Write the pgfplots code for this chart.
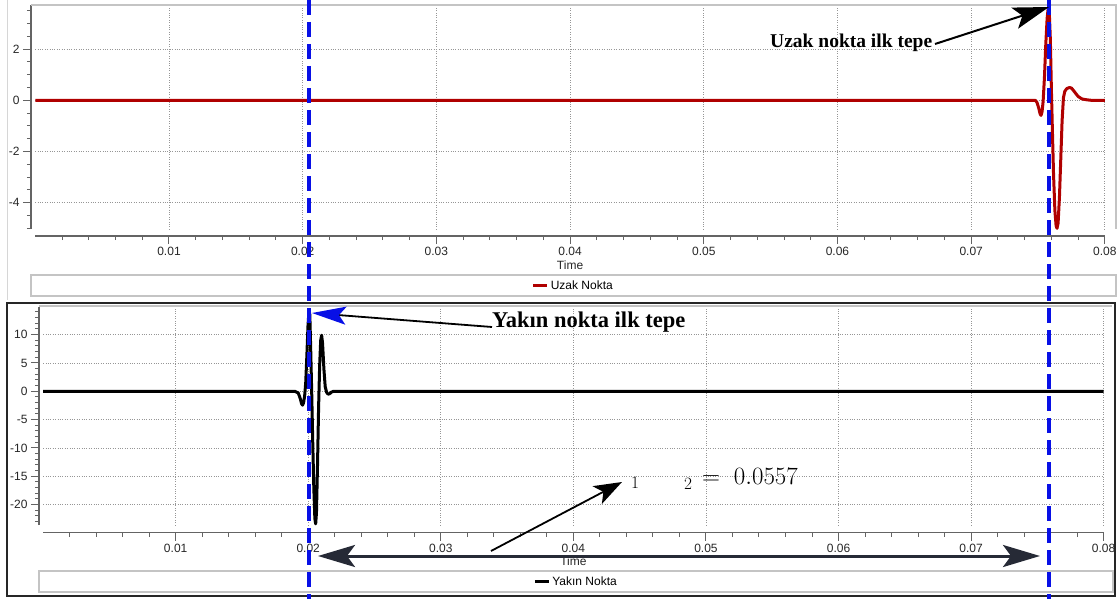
\documentclass[border=0pt]{standalone}
\usepackage{pgfplots}
\pgfplotsset{compat=1.18}
\usepackage{fontspec}
\setmainfont{Liberation Sans}
\newfontfamily\annfont{Liberation Serif}
\usetikzlibrary{arrows.meta}

\definecolor{uzak}{RGB}{176,0,0}
\definecolor{peakblue}{RGB}{8,16,230}
\definecolor{axgray}{RGB}{100,100,100}
\definecolor{gridgray}{RGB}{150,150,150}
\definecolor{boxgray}{RGB}{196,196,196}
\definecolor{slate}{RGB}{38,42,54}

\pgfplotsset{
  panel/.style={
    scale only axis, xmin=0, xmax=0.08, clip=false,
    scaled x ticks=false, scaled y ticks=false,
    axis x line*=bottom, axis y line*=left,
    axis line style={axgray, line width=1.4pt, -},
    tick align=outside,
    major tick length=8pt, minor tick length=4pt,
    every tick/.style={axgray, line width=1pt},
    xtick={0.01,0.02,0.03,0.04,0.05,0.06,0.07,0.08},
    xticklabels={0.01,0.02,0.03,0.04,0.05,0.06,0.07,0.08},
    minor xtick={0.002,0.004,0.006,0.008,0.012,0.014,0.016,0.018,
      0.022,0.024,0.026,0.028,0.032,0.034,0.036,0.038,
      0.042,0.044,0.046,0.048,0.052,0.054,0.056,0.058,
      0.062,0.064,0.066,0.068,0.072,0.074,0.076,0.078},
    grid=major, major grid style={gridgray, dotted, line width=0.8pt},
    ticklabel style={font=\fontsize{12}{14}\selectfont, text=black!85},
    xlabel=Time,
    label style={font=\fontsize{12}{14}\selectfont, text=black!85},
    legend style={draw=none, fill=none, font=\fontsize{12}{14}\selectfont,
      inner sep=1pt, anchor=center},
    legend image code/.code={\draw[#1, line width=3pt] (0pt,0pt) -- (14pt,0pt);},
  }
}

\begin{document}
\begin{tikzpicture}
\useasboundingbox (0pt,0pt) rectangle (1119pt,-599pt);

% far point
\begin{axis}[panel,
  at={(35.3pt,-229.1pt)}, anchor=south west,
  width=1069.7pt, height=224pt,
  ymin=-5.03, ymax=3.72,
  axis x line shift=6.9pt, axis y line shift=4.3pt,
  ytick={-4,-2,0,2}, yticklabels={-4,-2,0,2},
  minor ytick={-5,-4.5,-3.5,-3,-2.5,-1.5,-1,-0.5,0.5,1,1.5,2.5,3,3.5},
  xlabel style={at={(axis description cs:0.5,-0.161)}, anchor=center},
  legend style={at={(axis description cs:0.503,-0.252)}},
]
\addplot[uzak, line width=3pt, line join=round] coordinates {
 (0,0) (0.0748,0) (0.07492,-0.08) (0.07505,-0.3) (0.07515,-0.52) (0.07522,-0.59)
 (0.07530,-0.45) (0.07538,-0.05) (0.07548,0.9) (0.07558,2.2) (0.07568,3.2)
 (0.07576,3.6) (0.07584,3.45) (0.07592,2.4) (0.07600,0.4) (0.07608,-1.3)
 (0.07616,-2.9) (0.07626,-4.3) (0.07635,-4.9) (0.07642,-5.0) (0.07650,-4.8)
 (0.07660,-3.8) (0.07670,-2.3) (0.07680,-0.8) (0.07690,0.1) (0.07700,0.35)
 (0.07715,0.46) (0.07735,0.5) (0.07750,0.48) (0.07770,0.35) (0.07800,0.15)
 (0.07830,0.05) (0.07866,0.02) (0.0790,0) (0.08,0)
};
\addlegendentry{Uzak Nokta}
\end{axis}

% near point
\begin{axis}[panel,
  at={(43.1pt,-525pt)}, anchor=south west,
  width=1060.6pt, height=218.1pt,
  ymin=-23.6, ymax=14.9,
  axis x line shift=7.7pt, axis y line shift=4.1pt,
  ytick={-20,-15,-10,-5,0,5,10}, yticklabels={-20,-15,-10,-5,0,5,10},
  minor ytick={-23,-22,-21,-19,-18,-17,-16,-14,-13,-12,-11,-9,-8,-7,-6,
    -4,-3,-2,-1,1,2,3,4,6,7,8,9,11,12,13,14},
  xlabel style={at={(axis description cs:0.5,-0.165)}, anchor=center},
  legend style={at={(axis description cs:0.5025,-0.259)}},
]
\addplot[black, line width=3pt, line join=round] coordinates {
 (0,0) (0.0190,0) (0.01925,-0.3) (0.01940,-1.3) (0.01950,-2.2) (0.01957,-2.45)
 (0.01965,-2.0) (0.01973,-0.8) (0.01981,1.5) (0.01990,6.5) (0.01998,11.5)
 (0.02006,14.4) (0.02012,13.5) (0.02018,8) (0.02026,0) (0.02034,-9)
 (0.02042,-17) (0.02050,-22.5) (0.02056,-23.4) (0.02062,-21.5) (0.02070,-13)
 (0.02078,-3) (0.02086,4.5) (0.02094,9) (0.02101,9.9) (0.02108,8.5)
 (0.02118,4) (0.02128,0.8) (0.02139,-0.2) (0.02150,-0.5) (0.02160,-0.45)
 (0.02175,-0.15) (0.0219,0) (0.08,0)
};
\addlegendentry{Yakın Nokta}
\end{axis}

\begin{scope}[x=1pt, y=-1pt]
  % panel frames and legend boxes
  \draw[boxgray, line width=1.5pt] (31,5) -- (1116,5) -- (1116,229);
  \draw[boxgray!70, line width=1pt] (7,0) -- (7,300);
  \draw[boxgray, line width=1.2pt] (31,275) rectangle (1116,296);
  \draw[boxgray, line width=1.5pt] (39,306) -- (1112,306);
  \draw[boxgray, line width=1.2pt] (39,571) rectangle (1113,592);
  \draw[black!85, line width=2pt] (7,303) rectangle (1115,596);

  % peak markers
  \draw[peakblue, line width=3.5pt, dash pattern=on 15pt off 7pt] (309,0) -- (309,599);
  \draw[peakblue, line width=3.5pt, dash pattern=on 15pt off 7pt] (1049,0) -- (1049,599);

  % annotations
  \node[anchor=base west, inner sep=0pt, font=\annfont\bfseries\fontsize{19.5}{22}\selectfont]
    at (770,48) {Uzak nokta ilk tepe};
  \draw[line width=2pt, -{Stealth[length=36pt, width=22pt, inset=8pt]}] (935,44) -- (1049,7);

  \node[anchor=base west, inner sep=0pt, font=\annfont\bfseries\fontsize{22.5}{26}\selectfont]
    at (492,327) {Yakın nokta ilk tepe};
  \draw[line width=1.8pt, -{Stealth[length=34pt, width=18pt, inset=7pt, color=peakblue]}]
    (492,327) -- (312,313);

  \draw[line width=1.8pt, -{Stealth[length=28pt, width=20pt, inset=7pt]}] (491,551) -- (622,482);
  \node[font=\fontsize{16}{18}\selectfont] at (635,483) {$1$};
  \node[font=\fontsize{16}{18}\selectfont] at (688,484) {$2$};
  \node[anchor=west, inner sep=0pt, font=\fontsize{25}{28}\selectfont] at (702,476) {$=\;0.0557$};

  \draw[slate, line width=3pt,
    {Stealth[length=37pt, width=22pt, inset=8pt]}-{Stealth[length=37pt, width=22pt, inset=8pt]}]
    (318,556) -- (1040,556);
\end{scope}
\end{tikzpicture}
\end{document}
